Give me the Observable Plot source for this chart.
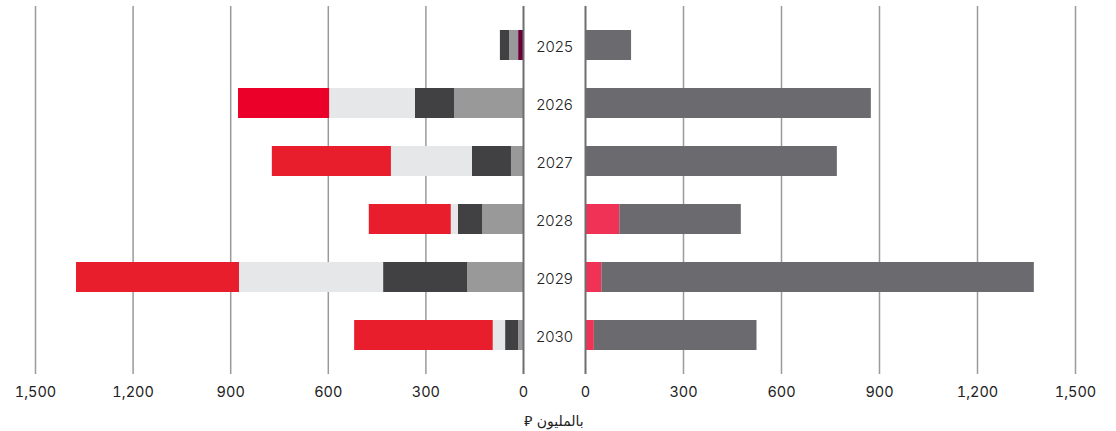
<!DOCTYPE html>
<html>
<head>
<meta charset="utf-8">
<script src="https://cdn.jsdelivr.net/npm/d3@7"></script>
<script src="https://cdn.jsdelivr.net/npm/@observablehq/plot@0.6"></script>
<style>
  html, body { margin: 0; padding: 0; background: #fff; }
  #wrap { position: relative; width: 1116px; height: 431px; overflow: hidden; font-family: Inter, "Noto Sans", sans-serif; }
  #left { position: absolute; left: 0; top: 0; }
  #right { position: absolute; left: 500px; top: 0; }
  #caption { position: absolute; left: 454px; width: 200px; top: 412px; text-align: center; direction: rtl;
             font-family: "DejaVu Sans", "Noto Sans", sans-serif; font-size: 14px; color: #222; }
</style>
</head>
<body>
<div id="wrap">
  <div id="left"></div>
  <div id="right"></div>
  <div id="caption">بالمليون &#x20C1;</div>
</div>
<script>
// ---- data (millions) ----
const years = ["2025", "2026", "2027", "2028", "2029", "2030"];
const leftMaroon = [15, 0, 0, 0, 0, 0];
const leftGray   = [28, 212, 37, 126, 172, 15];
const leftDark   = [28, 120, 120, 74, 258, 40];
const leftLight  = [0, 264, 249, 22, 443, 38];
const leftRed    = [0, 280, 366, 252, 501, 426];
const rightPink  = [0, 0, 0, 105, 50, 27];
const rightGray  = [141, 875, 771, 372, 1324, 498];
const xTicks = [0, 300, 600, 900, 1200, 1500];

const leftSeries = [
  ["maroon", leftMaroon], ["gray", leftGray], ["dark", leftDark], ["light", leftLight], ["red", leftRed]
];
const rightSeries = [["pink", rightPink], ["rgray", rightGray]];

const colorDomain = ["maroon", "gray", "dark", "light", "red", "pink", "rgray"];
const colorRange  = ["#6a0037", "#999999", "#414143", "#e6e7e8", "#e81e2d", "#f03256", "#6b6b6f"];

function rows(series) {
  const out = [];
  for (const [name, vals] of series) {
    years.forEach((y, i) => out.push({ year: y, series: name, value: vals[i] }));
  }
  return out;
}
const leftData = rows(leftSeries);
const rightData = rows(rightSeries);
const fmt = d => d.toLocaleString("en-US");

const common = {
  height: 405,
  marginTop: 6,
  marginBottom: 31,
  style: { fontFamily: "Inter, 'Noto Sans', sans-serif", fontSize: "14.5px", color: "#222", background: "transparent", overflow: "visible" },
  y: { domain: years, paddingInner: 0.475, paddingOuter: 0.364, axis: null },
  color: { domain: colorDomain, range: colorRange }
};

const left = Plot.plot({
  ...common,
  width: 554,
  marginLeft: 35,
  marginRight: 31,
  x: { domain: [1500, 0], axis: null },
  marks: [
    Plot.ruleX(xTicks.filter(d => d !== 0), { stroke: "#9a9a9a", strokeWidth: 1.5 }),
    Plot.axisX({ ticks: xTicks, tickSize: 0, tickPadding: 12, tickFormat: fmt, label: null }),
    Plot.barX(leftData, Plot.stackX({
      x: "value", y: "year",
      fill: d => (d.series === "red" && d.year === "2026") ? "#eb0029" : colorRange[colorDomain.indexOf(d.series)],
      order: colorDomain
    })),
    Plot.ruleX([0], { stroke: "#6e6e6e", strokeWidth: 2 })
  ]
});

const right = Plot.plot({
  ...common,
  width: 616,
  marginLeft: 85,
  marginRight: 41,
  x: { domain: [0, 1500], axis: null },
  marks: [
    Plot.ruleX(xTicks.filter(d => d !== 0), { stroke: "#9a9a9a", strokeWidth: 1.5 }),
    Plot.axisX({ ticks: xTicks, tickSize: 0, tickPadding: 12, tickFormat: fmt, label: null }),
    Plot.barX(rightData, Plot.stackX({ x: "value", y: "year", fill: "series", order: colorDomain })),
    Plot.ruleX([0], { stroke: "#6e6e6e", strokeWidth: 2 }),
    Plot.text(years, { x: 0, y: d => d, text: d => d, dx: -31, dy: 2, textAnchor: "middle", fontSize: 15, fontWeight: 300, fill: "#222" })
  ]
});

document.getElementById("left").appendChild(left);
document.getElementById("right").appendChild(right);
</script>
</body>
</html>
